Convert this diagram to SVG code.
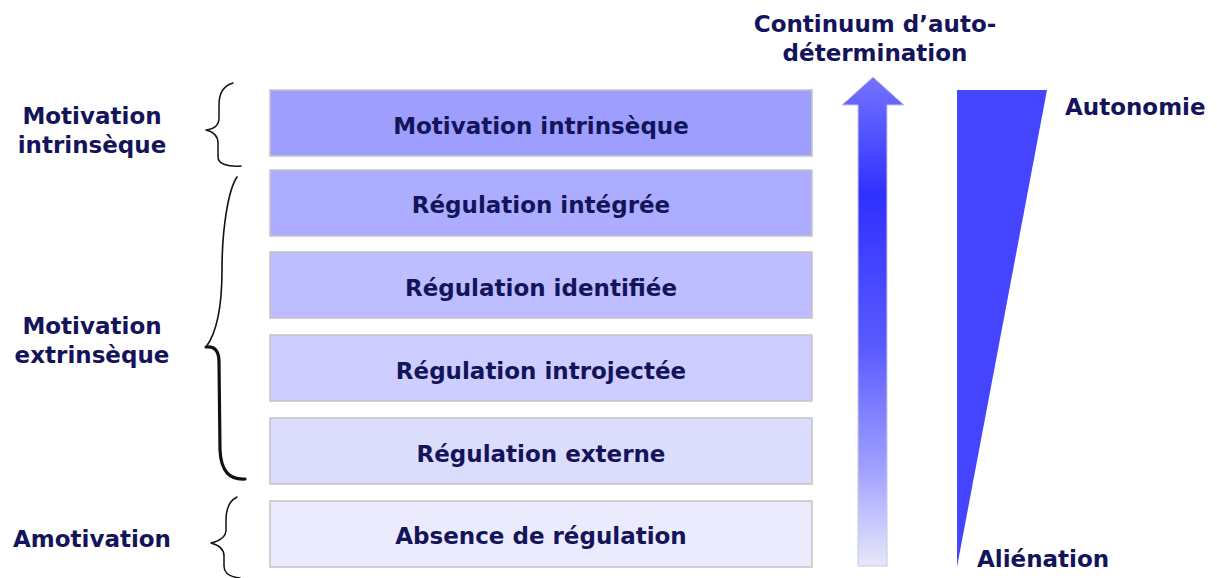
<svg xmlns="http://www.w3.org/2000/svg" width="1217" height="578" viewBox="0 0 1217 578">
<defs>
<style>
.t{font-family:"DejaVu Sans","Verdana",sans-serif;font-weight:bold;font-size:23px;fill:#14145a;}
.c{text-anchor:middle;}
.box{stroke:#c4c4c8;stroke-width:1.5;}
.br{fill:none;stroke:#111;stroke-linecap:round;stroke-linejoin:round;}
</style>
<linearGradient id="ag" x1="0" y1="77" x2="0" y2="566" gradientUnits="userSpaceOnUse">
<stop offset="0" stop-color="#7474ff"/>
<stop offset="0.24" stop-color="#3030ff"/>
<stop offset="0.55" stop-color="#5a5aff"/>
<stop offset="0.8" stop-color="#a0a0ff"/>
<stop offset="1" stop-color="#e8e8fb"/>
</linearGradient>
</defs>
<rect width="1217" height="578" fill="#fff"/>

<g id="label-intrinseque">
<text class="t c" x="92" y="124">Motivation</text>
<text class="t c" x="92" y="153">intrinsèque</text>
</g>
<g id="label-extrinseque">
<text class="t c" x="92" y="334">Motivation</text>
<text class="t c" x="92" y="363">extrinsèque</text>
</g>
<g id="label-amotivation">
<text class="t c" x="92" y="547">Amotivation</text>
</g>

<g id="braces">
<path class="br" stroke-width="1.5" d="M233,83 C222,86 219,95 219,105 L219,118 C219,125 214,129 206,130 C214,132 218,136 218,143 L218,157 C218,164 228,167 241,166"/>
<path class="br" stroke-width="1.6" d="M237,177 C228,190 222,230 222,270 C222,310 215,335 206,347"/>
<path class="br" stroke-width="3.2" d="M206,347 C214,346 219,350 219,362 L220,450 C221,472 230,480 245,479"/>
<path class="br" stroke-width="1.5" d="M237,497 C229,501 226,510 226,520 L226,530 C226,537 219,541 211,543 C219,545 224,549 224,556 L224,566 C224,573 230,577 240,578"/>
</g>

<g id="box-motivation-intrinseque">
<rect class="box" x="270" y="90" width="542" height="66" fill="#9e9eff"/>
<text class="t c" x="541" y="134">Motivation intrinsèque</text>
</g>
<g id="box-regulation-integree">
<rect class="box" x="270" y="170" width="542" height="66" fill="#adadff"/>
<text class="t c" x="541" y="213">Régulation intégrée</text>
</g>
<g id="box-regulation-identifiee">
<rect class="box" x="270" y="252" width="542" height="66" fill="#bdbdff"/>
<text class="t c" x="541" y="296">Régulation identifiée</text>
</g>
<g id="box-regulation-introjectee">
<rect class="box" x="270" y="335" width="542" height="66" fill="#cdcdff"/>
<text class="t c" x="541" y="379">Régulation introjectée</text>
</g>
<g id="box-regulation-externe">
<rect class="box" x="270" y="418" width="542" height="66" fill="#dcdcfd"/>
<text class="t c" x="541" y="462">Régulation externe</text>
</g>
<g id="box-absence-regulation">
<rect class="box" x="270" y="501" width="542" height="66" fill="#ebebfd"/>
<text class="t c" x="541" y="544">Absence de régulation</text>
</g>

<g id="continuum-arrow">
<polygon points="873,77 904,105 887,105 887,566 858,566 858,105 842,105" fill="url(#ag)" stroke="#c8c8dc" stroke-width="1"/>
<text class="t c" x="875" y="32">Continuum d’auto-</text>
<text class="t c" x="875" y="61">détermination</text>
</g>

<g id="autonomy-wedge">
<polygon points="957,90 1047,90 957,567" fill="#4545ff"/>
<text class="t" x="1065" y="115">Autonomie</text>
<text class="t" x="977" y="567">Aliénation</text>
</g>
</svg>
